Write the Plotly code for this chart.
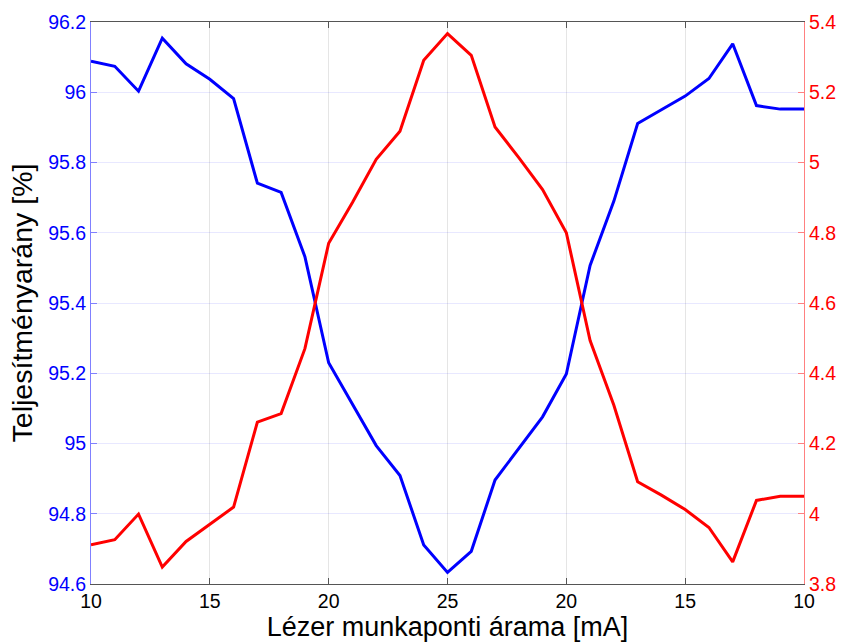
import plotly.graph_objects as go

# Sweep of the laser operating current: up from 10 mA to 25 mA, then back down to 10 mA
current_mA = [10, 11, 12, 13, 14, 15, 16, 17, 18, 19, 20, 21, 22, 23, 24, 25,
              24, 23, 22, 21, 20, 19, 18, 17, 16, 15, 14, 13, 12, 11, 10]
sweep_step = list(range(len(current_mA)))

# Power ratio [%] (left axis, blue)
ratio_blue = [96.088, 96.074, 96.003, 96.154, 96.081, 96.037, 95.982, 95.741, 95.715, 95.532,
              95.230, 95.114, 94.994, 94.909, 94.711, 94.633, 94.693, 94.896, 94.986, 95.076,
              95.198, 95.507, 95.690, 95.911, 95.950, 95.989, 96.039, 96.138, 95.962, 95.952, 95.952]

# Power ratio [%] (right axis, red)
ratio_red = [3.912, 3.926, 3.999, 3.848, 3.921, 3.970, 4.019, 4.261, 4.285, 4.470,
             4.770, 4.886, 5.009, 5.089, 5.291, 5.367, 5.305, 5.101, 5.014, 4.923,
             4.800, 4.493, 4.309, 4.091, 4.053, 4.012, 3.961, 3.863, 4.038, 4.050, 4.050]

x_tick_steps = [0, 5, 10, 15, 20, 25, 30]
x_tick_text = [str(current_mA[s]) for s in x_tick_steps]

left_ticks = [94.6, 94.8, 95.0, 95.2, 95.4, 95.6, 95.8, 96.0, 96.2]
left_tick_text = ["94.6", "94.8", "95", "95.2", "95.4", "95.6", "95.8", "96", "96.2"]
right_ticks = [3.8, 4.0, 4.2, 4.4, 4.6, 4.8, 5.0, 5.2, 5.4]
right_tick_text = ["3.8", "4", "4.2", "4.4", "4.6", "4.8", "5", "5.2", "5.4"]

FONT = "Liberation Sans, Arial, sans-serif"

fig = go.Figure()
fig.add_trace(go.Scatter(x=sweep_step, y=ratio_blue, mode="lines",
                         line=dict(color="#0000FF", width=3), yaxis="y", showlegend=False))
fig.add_trace(go.Scatter(x=sweep_step, y=ratio_red, mode="lines",
                         line=dict(color="#FF0000", width=3), yaxis="y2", showlegend=False))

fig.update_layout(
    width=842, height=644,
    margin=dict(l=91, r=38, t=22, b=60, autoexpand=False),
    paper_bgcolor="white", plot_bgcolor="white",
    font=dict(family=FONT, size=20, color="black"),
    xaxis=dict(
        range=[0, 30], tickvals=x_tick_steps, ticktext=x_tick_text,
        showline=True, linecolor="#555555", linewidth=1, mirror="ticks",
        ticks="inside", ticklen=6, tickcolor="#555555",
        showgrid=True, gridcolor="rgba(0,0,0,0.10)", gridwidth=1, zeroline=False,
        tickfont=dict(family=FONT, size=19.5, color="black"),
        title=dict(text="Lézer munkaponti árama [mA]", font=dict(family=FONT, size=27, color="black"), standoff=3),
        automargin=False,
    ),
    yaxis=dict(
        range=[94.6, 96.2], tickvals=left_ticks, ticktext=left_tick_text,
        showline=True, linecolor="#8080FF", linewidth=1,
        ticks="inside", ticklen=6, tickcolor="#8080FF",
        showgrid=True, gridcolor="rgba(0,0,255,0.09)", gridwidth=1, zeroline=False,
        tickfont=dict(family=FONT, size=19.5, color="#0000FF"),
        title=dict(text="Teljesítményarány [%]", font=dict(family=FONT, size=28.5, color="black"), standoff=7),
        automargin=False,
    ),
    yaxis2=dict(
        range=[3.8, 5.4], tickvals=right_ticks, ticktext=right_tick_text,
        overlaying="y", side="right", anchor="x",
        showline=True, linecolor="#FF8080", linewidth=1,
        ticks="inside", ticklen=6, tickcolor="#FF8080",
        showgrid=False, zeroline=False,
        tickfont=dict(family=FONT, size=19.5, color="#FF0000"),
        automargin=False,
    ),
)

fig.write_html("out.html")
